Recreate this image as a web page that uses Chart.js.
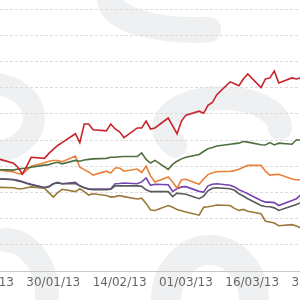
<!DOCTYPE html>
<html lang="en">
<head>
  <meta charset="UTF-8">
  <title>Performance Chart</title>
  <script src="https://cdn.jsdelivr.net/npm/chart.js"></script>
  <style>
    html, body { margin: 0; padding: 0; width: 300px; height: 300px; overflow: hidden; background: #fff; }
    #wrap { position: absolute; left: -60px; top: 0; width: 420px; height: 300px; }
  </style>
</head>
<body>
  <div id="wrap"><canvas id="perfChart" width="420" height="300"></canvas></div>
  <script>
    // trading days (dd/mm/yy)
    const dates = [
      '17/01/13', '18/01/13', '21/01/13', '22/01/13', '23/01/13', '24/01/13', '25/01/13',
      '28/01/13', '29/01/13', '30/01/13', '31/01/13', '01/02/13',
      '04/02/13', '05/02/13', '06/02/13', '07/02/13', '08/02/13',
      '11/02/13', '12/02/13', '13/02/13', '14/02/13', '15/02/13',
      '18/02/13', '19/02/13', '20/02/13', '21/02/13', '22/02/13',
      '25/02/13', '26/02/13', '27/02/13', '28/02/13', '01/03/13',
      '04/03/13', '05/03/13', '06/03/13', '07/03/13', '08/03/13',
      '11/03/13', '12/03/13', '13/03/13', '14/03/13', '15/03/13',
      '18/03/13', '19/03/13', '20/03/13', '21/03/13', '22/03/13',
      '25/03/13', '26/03/13', '27/03/13', '28/03/13'
    ];

    // % change per series
    const redValues = [3.0, 2.6, 1.1, -0.4, -3.0, 0.0, 3.4, 3.0, 4.9, 6.4,
      7.9, 9.0, 12.4, 9.0, 16.1, 16.1, 13.9, 13.5, 16.1, 14.2,
      13.1, 10.9, 14.6, 14.6, 17.2, 14.2, 14.6, 18.4, 15.4, 12.4,
      17.2, 19.5, 21.0, 20.2, 23.2, 24.3, 27.3, 32.2, 31.5, 30.7,
      33.3, 35.2, 30.0, 33.3, 33.7, 36.3, 31.8, 33.7, 33.3, 33.7, 33.7];
    const greenValues = [-1.1, -1.3, -1.5, -1.1, -0.9, -0.7, -0.4, 0.4, 0.6, 1.1,
      1.5, 0.9, 2.2, 1.9, 2.4, 2.6, 2.8, 3.0, 3.4, 3.4,
      3.6, 3.7, 3.7, 5.1, 2.6, 1.2, 2.2, -1.2, 0.7, 1.9,
      2.8, 3.4, 4.5, 5.6, 6.7, 7.1, 7.7, 8.4, 8.6, 8.8,
      9.4, 9.2, 8.2, 8.1, 9.0, 8.1, 8.8, 8.4, 10.1, 9.9, 9.7];
    const orangeValues = [-1.1, -1.5, -2.2, -2.8, -3.0, -1.5, 0.0, 1.3, 1.9, 2.2,
      2.2, 1.7, 3.9, -0.4, -1.3, -2.2, -3.4, -1.9, -2.6, -0.7,
      -0.7, -1.9, -1.1, -2.4, 0.0, -3.7, -6.0, -4.1, -6.0, -8.4,
      -5.2, -5.0, -6.9, -4.9, -3.2, -2.5, -2.1, -1.9, -1.7, -1.2,
      -0.4, 0.3, 0.3, -1.9, -3.4, -3.2, -3.1, -4.9, -5.2, -5.2, -5.2];
    const purpleValues = [-4.7, -4.8, -5.1, -5.4, -5.8, -6.4, -6.9, -8.1, -7.7, -6.7,
      -6.2, -6.7, -6.2, -7.5, -8.2, -8.6, -8.7, -8.7, -8.6, -6.7,
      -6.6, -6.4, -6.7, -6.0, -4.5, -7.3, -6.9, -7.1, -9.6, -8.6,
      -7.9, -7.8, -9.6, -9.9, -7.5, -6.9, -6.7, -7.3, -7.9, -9.0,
      -9.7, -10.5, -13.1, -13.7, -13.7, -13.9, -15.0, -13.1, -12.4, -10.9, -9.7];
    const greyValues = [-4.9, -4.9, -5.2, -5.6, -6.0, -6.6, -7.1, -8.2, -7.9, -6.7,
      -6.4, -6.7, -6.6, -7.5, -8.2, -8.8, -9.0, -9.0, -8.8, -7.5,
      -7.5, -7.5, -7.5, -7.7, -9.0, -9.7, -9.7, -9.7, -11.6, -10.3,
      -10.5, -10.7, -12.4, -11.4, -9.4, -8.4, -8.2, -8.6, -9.2, -10.5,
      -11.4, -12.4, -15.0, -15.4, -15.5, -15.9, -16.9, -15.2, -14.6, -13.9, -13.1];
    const brownValues = [-8.1, -8.1, -8.2, -8.6, -8.6, -8.2, -7.9, -8.4, -10.1, -11.8,
      -10.1, -8.8, -9.7, -8.6, -9.7, -11.0, -10.5, -11.2, -11.8, -11.6,
      -11.2, -11.6, -12.5, -12.2, -14.2, -16.7, -16.9, -15.0, -15.7, -16.5,
      -17.0, -17.5, -18.7, -15.7, -15.5, -15.2, -14.8, -15.0, -16.1, -16.9,
      -16.5, -17.2, -18.1, -21.0, -21.3, -21.7, -22.7, -22.3, -22.8, -23.6, -23.6];

    // x axis labels, one every 15 days from 15/01/13
    const tickLabels = ['15/01/13', '30/01/13', '14/02/13', '01/03/13', '16/03/13', '31/03/13'];

    // days since 15/01/13
    const start = Date.UTC(2013, 0, 15);
    function dayNum(s) {
      const p = s.split('/');
      return (Date.UTC(2000 + +p[2], +p[1] - 1, +p[0]) - start) / 86400000;
    }
    const days = dates.map(dayNum);
    const toPoints = vals => vals.map((v, i) => ({ x: days[i], y: v }));

    function series(label, vals, color) {
      return {
        label: label,
        data: toPoints(vals),
        borderColor: color,
        borderWidth: 1.6,
        pointRadius: 0,
        tension: 0,
        fill: false
      };
    }

    // faint logo watermark behind the plot (canvas starts 60px left of the page)
    const watermark = {
      id: 'watermark',
      beforeDraw(chart) {
        const c = chart.ctx;
        c.save();
        c.translate(60, 0);
        c.strokeStyle = '#eef0f2';
        c.lineCap = 'round';
        const arcs = [
          // cx, cy, rx, ry, width, a0, a1
          [210, 300, 44, 50, 30, Math.PI, 2 * Math.PI],
          [222, 128, 58, 30, 24, 0.8 * Math.PI, 2.0 * Math.PI],
          [-8, 118, 42, 34, 22, -0.5 * Math.PI, 0.5 * Math.PI],
          [195, 0, 85, 30, 26, 0.45 * Math.PI, 1.0 * Math.PI],
          [5, 295, 42, 55, 24, 1.5 * Math.PI, 2.0 * Math.PI]
        ];
        arcs.forEach(a => {
          c.lineWidth = a[4];
          c.beginPath();
          c.ellipse(a[0], a[1], a[2], a[3], 0, a[5], a[6]);
          c.stroke();
        });
        c.restore();
      }
    };

    const ctx = document.getElementById('perfChart').getContext('2d');
    new Chart(ctx, {
      type: 'line',
      data: {
        datasets: [
          series('Red', redValues, '#c8232c'),
          series('Green', greenValues, '#4f6f3e'),
          series('Orange', orangeValues, '#e9813a'),
          series('Grey', greyValues, '#595959'),
          series('Purple', purpleValues, '#7446ad'),
          series('Brown', brownValues, '#9a7838')
        ]
      },
      options: {
        responsive: false,
        animation: false,
        layout: { padding: { top: 9, bottom: 4.6, left: 0, right: 0 } },
        plugins: {
          legend: { display: false },
          tooltip: { enabled: false }
        },
        scales: {
          x: {
            type: 'linear',
            min: -10.63,
            max: 84.39,
            grid: { display: false, drawTicks: false },
            border: { display: true, color: '#c8c8c8', width: 1 },
            ticks: {
              stepSize: 15,
              includeBounds: false,
              autoSkip: false,
              maxRotation: 0,
              padding: 5,
              color: '#666',
              font: { family: 'DejaVu Sans', size: 12 },
              callback: v => tickLabels[v / 15] || ''
            }
          },
          y: {
            min: -40,
            max: 60,
            grid: { color: '#dcdcdc', drawTicks: false },
            border: { display: false, dash: [3, 2] },
            ticks: { display: false, stepSize: 10 }
          }
        }
      },
      plugins: [watermark]
    });
  </script>
</body>
</html>
